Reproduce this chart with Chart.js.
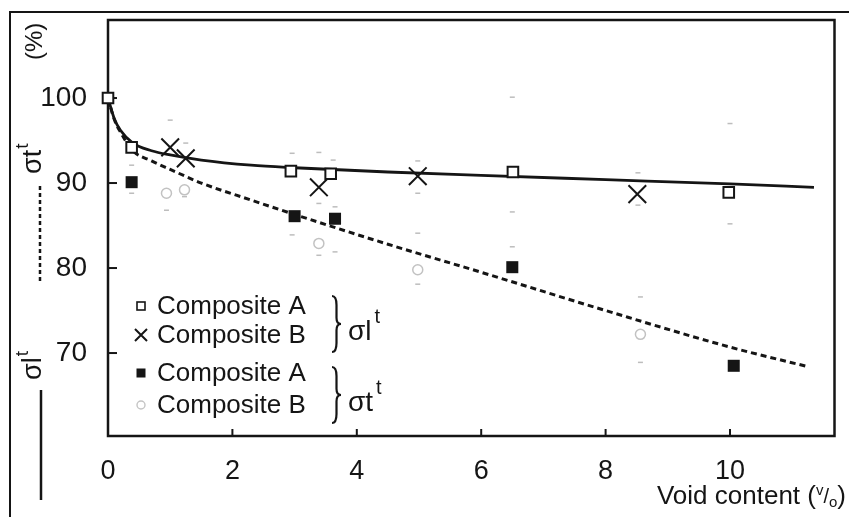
<!DOCTYPE html>
<html>
<head>
<meta charset="utf-8">
<script src="https://cdn.jsdelivr.net/npm/chart.js@4.4.1/dist/chart.umd.min.js"></script>
<style>
  html, body { margin: 0; padding: 0; background: #fff; }
</style>
</head>
<body>
<canvas id="chart" width="849" height="517"></canvas>
<script>
// tick values
const xTicks = [0, 2, 4, 6, 8, 10];
const yTicks = [70, 80, 90, 100];

// sigma l^t  (open squares = composite A, crosses = composite B)
const lgAX = [0, 0.38, 2.94, 3.58, 6.51, 9.98];
const lgAY = [100, 94.2, 91.4, 91.1, 91.3, 88.9];
const lgBX = [1.0, 1.25, 3.39, 4.98, 8.51];
const lgBY = [94.2, 92.9, 89.5, 90.8, 88.7];

// sigma t^t  (filled squares = composite A, faint circles = composite B)
const trAX = [0.38, 3.0, 3.65, 6.5, 10.06];
const trAY = [90.1, 86.1, 85.8, 80.1, 68.5];
const trBX = [0.94, 1.23, 3.39, 4.98, 8.56];
const trBY = [88.8, 89.2, 82.9, 79.8, 72.2];

// fitted curves
const fitLX = [0, 0.1, 0.2, 0.4, 0.7, 1, 1.5, 2.3, 3, 4.5, 6, 8, 10, 11.35];
const fitLY = [100, 97.6, 96.2, 94.7, 93.8, 93.3, 92.7, 92.1, 91.8, 91.3, 90.9, 90.4, 89.9, 89.5];
const fitTX = [0, 0.1, 0.2, 0.4, 0.7, 1, 1.5, 2.3, 3, 4.5, 6, 8, 10, 11.25];
const fitTY = [100, 97.5, 96, 93.8, 92.6, 91.6, 90, 88, 86.3, 82.8, 79.5, 75, 70.7, 68.4];

// faint scatter-bar ends
const errX = [0.38, 0.38, 1.0, 1.25, 0.94, 1.23, 2.96, 2.96, 3.39, 3.39, 3.39, 3.62, 3.65, 3.65, 4.98, 4.98, 4.98, 4.98, 6.5, 6.5, 6.5, 8.52, 8.52, 8.56, 8.56, 10.0, 10.0];
const errY = [92.1, 88.8, 97.4, 94.7, 86.8, 88.4, 93.5, 83.9, 93.6, 87.6, 81.5, 92.7, 87.2, 81.9, 92.6, 88.8, 84.1, 78.1, 100.1, 86.6, 82.5, 91.2, 87.4, 76.6, 68.9, 97.0, 85.2];

const pts = (xs, ys) => xs.map((v, i) => ({ x: v, y: ys[i] }));
const FONT = '"Liberation Sans", Arial, Helvetica, sans-serif';
const INK = '#151515';

function brace(ctx, x, y1, y2, w) {
  const ym = (y1 + y2) / 2;
  const xm = x + w / 2;
  ctx.beginPath();
  ctx.moveTo(x, y1);
  ctx.quadraticCurveTo(xm, y1, xm, y1 + w);
  ctx.lineTo(xm, ym - w * 0.7);
  ctx.quadraticCurveTo(xm, ym, x + w, ym);
  ctx.quadraticCurveTo(xm, ym, xm, ym + w * 0.7);
  ctx.lineTo(xm, y2 - w);
  ctx.quadraticCurveTo(xm, y2, x, y2);
  ctx.stroke();
}

const framePlugin = {
  id: 'framePlugin',
  beforeDatasetsDraw(chart) {
    const { ctx, chartArea: a, scales: { x, y } } = chart;
    ctx.save();
    ctx.strokeStyle = INK;
    ctx.lineWidth = 2.5;
    ctx.strokeRect(a.left, a.top, a.right - a.left, a.bottom - a.top);
    ctx.lineWidth = 2;
    yTicks.forEach(v => {
      const py = y.getPixelForValue(v);
      ctx.beginPath(); ctx.moveTo(a.left, py); ctx.lineTo(a.left + 9, py); ctx.stroke();
    });
    xTicks.forEach(v => {
      const px = x.getPixelForValue(v);
      ctx.beginPath(); ctx.moveTo(px, a.bottom); ctx.lineTo(px, a.bottom - 7); ctx.stroke();
    });
    // outer figure border
    ctx.lineWidth = 2;
    ctx.beginPath();
    ctx.moveTo(10, 517); ctx.lineTo(10, 12); ctx.lineTo(849, 12);
    ctx.stroke();
    ctx.restore();
  },
  afterDraw(chart) {
    const { ctx } = chart;
    ctx.save();
    ctx.fillStyle = INK;
    ctx.strokeStyle = INK;

    // left rotated axis annotations
    const rot = (cx, cy, fn) => {
      ctx.save(); ctx.translate(cx, cy); ctx.rotate(-Math.PI / 2); fn(); ctx.restore();
    };
    ctx.textBaseline = 'alphabetic';
    ctx.textAlign = 'left';
    rot(42, 60, () => { ctx.font = '24px ' + FONT; ctx.fillText('(%)', 0, 0); });
    rot(41, 174, () => {
      ctx.font = '27px ' + FONT; ctx.fillText('σt', 0, 0);
      const w = ctx.measureText('σt').width;
      ctx.font = '19px ' + FONT; ctx.fillText('t', w + 1, -13);
    });
    rot(41, 380, () => {
      ctx.font = '27px ' + FONT; ctx.fillText('σl', 0, 0);
      const w = ctx.measureText('σl').width;
      ctx.font = '19px ' + FONT; ctx.fillText('t', w + 1, -13);
    });
    ctx.lineWidth = 2.5;
    ctx.setLineDash([4, 3]);
    ctx.beginPath(); ctx.moveTo(40, 186); ctx.lineTo(40, 284); ctx.stroke();
    ctx.setLineDash([]);
    ctx.beginPath(); ctx.moveTo(41, 390); ctx.lineTo(41, 500); ctx.stroke();

    // x axis title with v/o fraction
    const base = 504;
    const parts = [
      { t: 'Void content (', f: 26, dy: 0 },
      { t: 'v', f: 15, dy: -9 },
      { t: '/', f: 20, dy: -1 },
      { t: 'o', f: 15, dy: 3 },
      { t: ')', f: 26, dy: 0 }
    ];
    let total = 0;
    parts.forEach(p => { ctx.font = p.f + 'px ' + FONT; p.w = ctx.measureText(p.t).width; total += p.w; });
    let cx = 846 - total;
    parts.forEach(p => { ctx.font = p.f + 'px ' + FONT; ctx.fillText(p.t, cx, base + p.dy); cx += p.w; });

    // legend block
    const rows = [306, 335, 373, 405];
    const mx = 141;
    ctx.lineWidth = 1.6;
    ctx.fillStyle = '#fff';
    ctx.fillRect(mx - 4, rows[0] - 4, 8, 8);
    ctx.strokeRect(mx - 4, rows[0] - 4, 8, 8);
    ctx.lineWidth = 2;
    ctx.beginPath();
    ctx.moveTo(mx - 6, rows[1] - 6); ctx.lineTo(mx + 6, rows[1] + 6);
    ctx.moveTo(mx + 6, rows[1] - 6); ctx.lineTo(mx - 6, rows[1] + 6);
    ctx.stroke();
    ctx.fillStyle = INK;
    ctx.fillRect(mx - 4.5, rows[2] - 4.5, 9, 9);
    ctx.strokeStyle = '#c4c4c4';
    ctx.lineWidth = 1.4;
    ctx.beginPath(); ctx.arc(mx, rows[3], 4, 0, Math.PI * 2); ctx.stroke();

    ctx.fillStyle = INK;
    ctx.strokeStyle = INK;
    ctx.font = '26px ' + FONT;
    ctx.textBaseline = 'middle';
    ['Composite A', 'Composite B', 'Composite A', 'Composite B'].forEach((s, i) => ctx.fillText(s, 157, rows[i] + 1));

    ctx.lineWidth = 2.2;
    brace(ctx, 332, 296, 352, 9);
    brace(ctx, 332, 367, 423, 9);
    ctx.textBaseline = 'alphabetic';
    ctx.font = '28px ' + FONT;
    ctx.fillText('σl', 348, 340);
    let w = ctx.measureText('σl').width;
    ctx.font = '20px ' + FONT;
    ctx.fillText('t', 348 + w + 3, 323);
    ctx.font = '28px ' + FONT;
    ctx.fillText('σt', 348, 411);
    w = ctx.measureText('σt').width;
    ctx.font = '20px ' + FONT;
    ctx.fillText('t', 348 + w + 3, 394);

    ctx.restore();
  }
};

const noPad = axis => {
  axis.paddingTop = 0; axis.paddingBottom = 0;
  axis.paddingLeft = 0; axis.paddingRight = 0;
};

const canvas = document.getElementById('chart');
const chart = new Chart(canvas.getContext('2d'), {
  type: 'scatter',
  data: {
    datasets: [
      { label: 'Composite A σl', data: pts(lgAX, lgAY), pointStyle: 'rect', pointRadius: 7.5, borderWidth: 2, borderColor: INK, backgroundColor: '#fff', order: 1, clip: false },
      { label: 'Composite B σl', data: pts(lgBX, lgBY), pointStyle: 'crossRot', pointRadius: 12.5, borderWidth: 2, borderColor: INK, order: 1, clip: false },
      { label: 'Composite A σt', data: pts(trAX, trAY), pointStyle: 'rect', pointRadius: 8.5, borderWidth: 0, backgroundColor: INK, borderColor: INK, order: 1, clip: false },
      { label: 'Composite B σt', data: pts(trBX, trBY), pointStyle: 'circle', pointRadius: 5, borderWidth: 1.5, borderColor: '#c2c2c2', backgroundColor: 'rgba(0,0,0,0)', order: 1, clip: false },
      { label: 'bars', data: pts(errX, errY), pointStyle: 'line', pointRadius: 2.5, borderWidth: 1.5, borderColor: '#bdbdbd', order: 3, clip: false },
      { label: 'fit l', data: pts(fitLX, fitLY), showLine: true, pointRadius: 0, borderColor: INK, borderWidth: 2.8, cubicInterpolationMode: 'monotone', order: 2, clip: false },
      { label: 'fit t', data: pts(fitTX, fitTY), showLine: true, pointRadius: 0, borderColor: INK, borderWidth: 3, borderDash: [6, 4], cubicInterpolationMode: 'monotone', order: 2, clip: false }
    ]
  },
  options: {
    responsive: false,
    animation: false,
    events: [],
    layout: { padding: { left: 0, top: 20, right: 11, bottom: 0 } },
    plugins: { legend: { display: false }, tooltip: { enabled: false } },
    scales: {
      x: {
        type: 'linear', min: 0, max: 11.68,
        grid: { display: false }, border: { display: false },
        afterBuildTicks: axis => { axis.ticks = xTicks.map(v => ({ value: v })); },
        afterFit: axis => { axis.height = 81; noPad(axis); },
        ticks: { padding: 11, color: INK, font: { family: FONT, size: 27 }, maxRotation: 0 }
      },
      y: {
        type: 'linear', min: 60.24, max: 109.18,
        grid: { display: false }, border: { display: false },
        afterBuildTicks: axis => { axis.ticks = yTicks.map(v => ({ value: v })); },
        afterFit: axis => { axis.width = 108; noPad(axis); },
        ticks: { padding: 13, color: INK, font: { family: FONT, size: 28 } }
      }
    }
  },
  plugins: [framePlugin]
});
</script>
</body>
</html>
